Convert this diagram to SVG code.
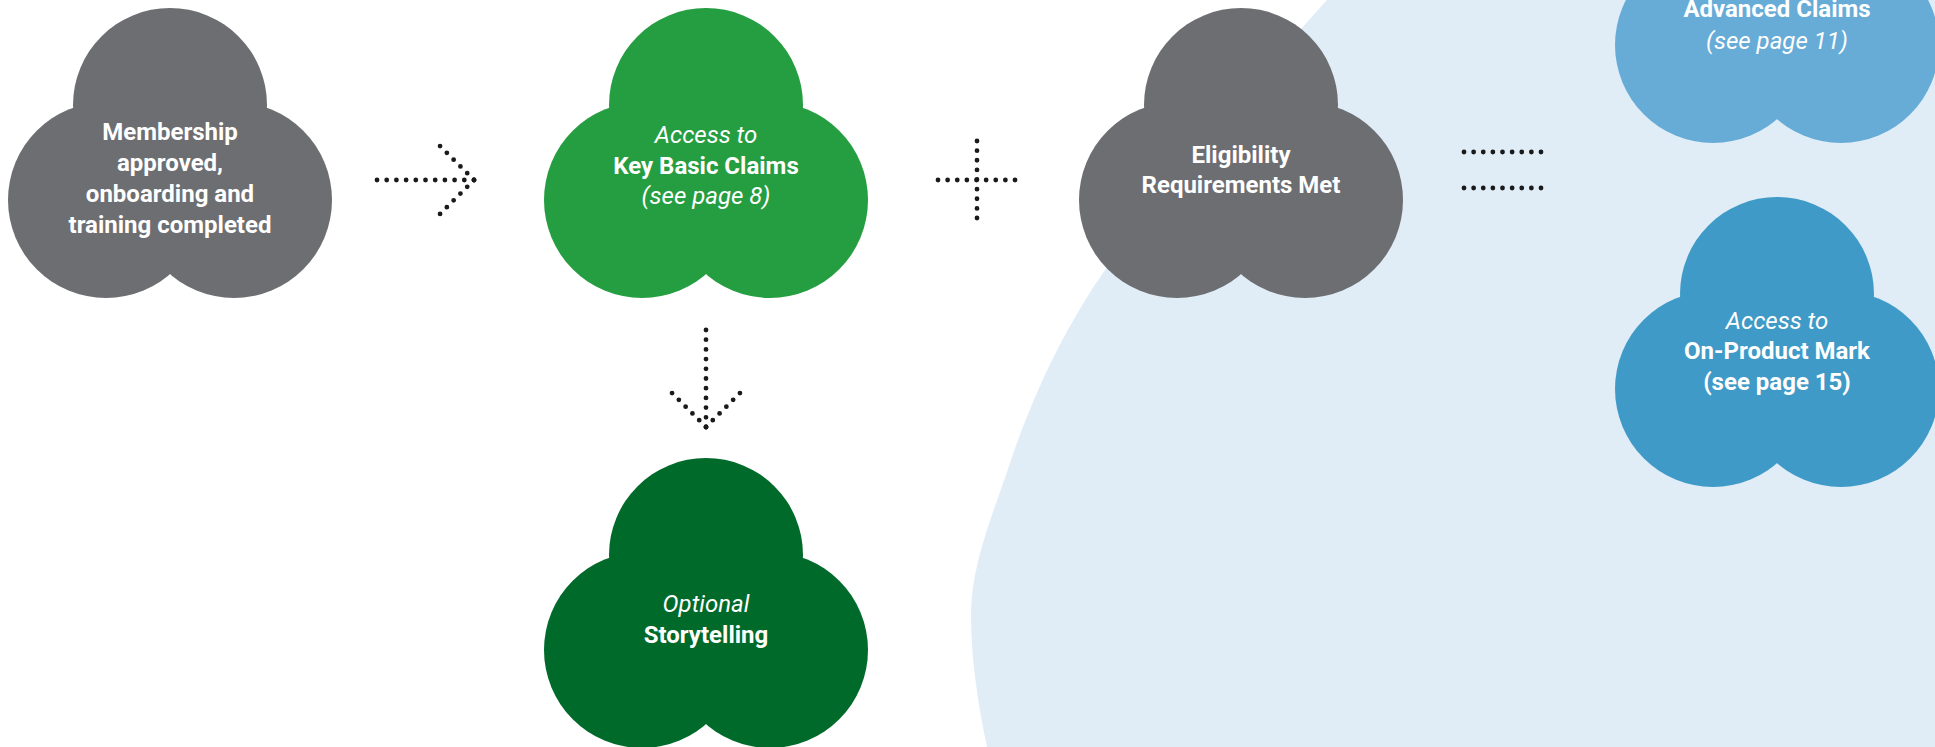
<svg xmlns="http://www.w3.org/2000/svg" width="1935" height="747" viewBox="0 0 1935 747">
  <style>
    .t { font-family: Roboto, "Liberation Sans", sans-serif; font-size: 24px; fill: #ffffff; text-anchor: middle; }
    .b { font-weight: 700; }
    .i { font-style: italic; font-weight: 400; }
    .dot { stroke: #1a1a1a; stroke-width: 4.8; stroke-linecap: round; fill: none; }
  </style>
  <defs>
    <g id="blob">
      <circle cx="0" cy="-95" r="97"/>
      <circle cx="-64" cy="0" r="98"/>
      <circle cx="64" cy="0" r="98"/>
    </g>
  </defs>
  <rect x="0" y="0" width="1935" height="747" fill="#ffffff"/>
  <path id="background" d="M1327,0 C1250,85 1173,173 1107,267 C1065,327 1033,394 1010,463 C994,512 971,563 971,615 C971,659 978,704 987,747 L1935,747 L1935,0 Z" fill="#e0edf7"/>

  <g id="node-membership">
    <use href="#blob" transform="translate(170,200)" fill="#6d6e71"/>
    <text class="t b" x="170" y="140">Membership</text>
    <text class="t b" x="170" y="171">approved,</text>
    <text class="t b" x="170" y="202">onboarding and</text>
    <text class="t b" x="170" y="233">training completed</text>
  </g>

  <g id="node-key-basic-claims">
    <use href="#blob" transform="translate(706,200)" fill="#259d41"/>
    <text class="t i" x="706" y="143">Access to</text>
    <text class="t b" x="706" y="174">Key Basic Claims</text>
    <text class="t i" x="706" y="204">(see page 8)</text>
  </g>

  <g id="node-storytelling">
    <use href="#blob" transform="translate(706,650)" fill="#006a2a"/>
    <text class="t i" x="706" y="612">Optional</text>
    <text class="t b" x="706" y="643">Storytelling</text>
  </g>

  <g id="node-eligibility">
    <use href="#blob" transform="translate(1241,200)" fill="#6d6e71"/>
    <text class="t b" x="1241" y="163">Eligibility</text>
    <text class="t b" x="1241" y="193">Requirements Met</text>
  </g>

  <g id="node-advanced-claims">
    <use href="#blob" transform="translate(1777,45)" fill="#67acd7"/>
    <text class="t b" x="1777" y="17">Advanced Claims</text>
    <text class="t i" x="1777" y="49">(see page 11)</text>
  </g>

  <g id="node-on-product-mark">
    <use href="#blob" transform="translate(1777,389)" fill="#3f9ac7"/>
    <text class="t i" x="1777" y="329">Access to</text>
    <text class="t b" x="1777" y="359">On-Product Mark</text>
    <text class="t b" x="1777" y="390">(see page 15)</text>
  </g>

  <g id="connectors">
    <line class="dot" x1="377" y1="180" x2="474.5" y2="180" stroke-dasharray="0 9.7"/>
    <line class="dot" x1="474" y1="180" x2="439.6" y2="145.6" stroke-dasharray="0 9.6"/>
    <line class="dot" x1="474" y1="180" x2="439.6" y2="214.4" stroke-dasharray="0 9.6"/>

    <line class="dot" x1="938" y1="180" x2="1015.5" y2="180" stroke-dasharray="0 9.625"/>
    <line class="dot" x1="977" y1="141" x2="977" y2="218.5" stroke-dasharray="0 9.625"/>

    <line class="dot" x1="1464" y1="152" x2="1541.5" y2="152" stroke-dasharray="0 9.625"/>
    <line class="dot" x1="1464" y1="188" x2="1541.5" y2="188" stroke-dasharray="0 9.625"/>

    <line class="dot" x1="706" y1="330" x2="706" y2="427.5" stroke-dasharray="0 9.7"/>
    <line class="dot" x1="706" y1="427" x2="671.6" y2="392.6" stroke-dasharray="0 9.6"/>
    <line class="dot" x1="706" y1="427" x2="740.4" y2="392.6" stroke-dasharray="0 9.6"/>
  </g>
</svg>
